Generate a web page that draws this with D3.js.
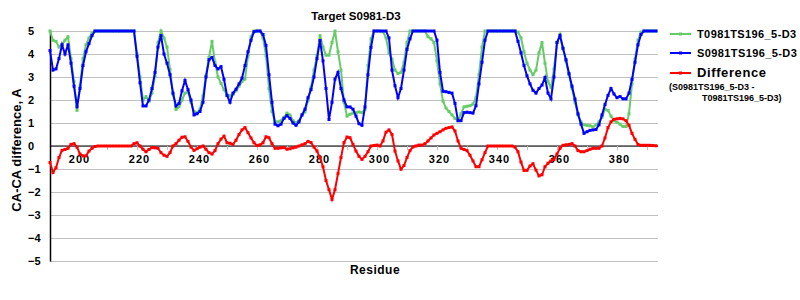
<!DOCTYPE html>
<html>
<head>
<meta charset="utf-8">
<script src="https://cdn.jsdelivr.net/npm/d3@7"></script>
<style>
    body { margin: 0; background: #fff; }
    svg text { font-family: "Liberation Sans", Arial, sans-serif; font-weight: bold; fill: #000; }
</style>
</head>
<body>
<svg id="chart" width="800" height="300"></svg>
<script>
// first residue on the axis, one value per residue after it
var firstResidue = 191;

var seriesNames = ["T0981TS196_5-D3", "S0981TS196_5-D3", "Difference"];

// T0981TS196_5-D3 (green)
var targetValues = [
    5.0, 4.6, 4.55, 4.3, 4.4, 4.6, 4.75, 3.8, 2.8, 1.55,      // 191-200
    2.6, 3.8, 4.4, 4.7, 4.9, 5, 5, 5, 5, 5,                   // 201-210
    5, 5, 5, 5, 5, 5, 5, 5, 5, 4.0,                           // 211-220
    3.0, 2.0, 2.15, 1.95, 2.3, 3.04, 4.5, 5, 4.7, 4.3,        // 221-230
    3.33, 2.25, 1.59, 1.7, 2.0, 2.3, 2.35, 1.9, 1.5, 1.45,    // 231-240
    1.6, 2.18, 3.06, 3.85, 4.55, 3.64, 3.0, 2.72, 2.45, 2.2,  // 241-250
    2.18, 2.25, 2.4, 2.6, 2.8, 2.91, 3.9, 4.75, 5, 5,         // 251-260
    5, 4.7, 3.93, 2.5, 1.5, 1.05, 1.05, 1.1, 1.25, 1.43,      // 261-270
    1.35, 1.1, 1.02, 1.1, 1.35, 1.48, 1.97, 2.55, 3.3, 3.93,  // 271-280
    4.8, 4.3, 3.95, 3.95, 4.5, 5, 4.1, 3.3, 1.9, 1.3,         // 281-290
    1.38, 1.43, 1.45, 1.48, 1.45, 1.6, 3.5, 4.66, 5, 5,       // 291-300
    5, 4.97, 4.7, 4.05, 3.78, 3.3, 3.15, 3.2, 3.64, 4.5,      // 301-310
    5, 5, 5, 5, 5, 5, 4.75, 4.66, 4.5, 3.7,                   // 311-320
    2.7, 1.95, 1.65, 1.5, 1.35, 1.2, 1.1, 1.4, 1.7, 1.73,     // 321-330
    1.75, 1.82, 2.11, 3.1, 4.3, 5, 5, 5, 5, 5,                // 331-340
    5, 5, 5, 5, 5, 5, 4.95, 4.7, 4.1, 3.6,                    // 341-350
    3.3, 3.1, 3.3, 4.05, 4.5, 3.6, 2.8, 2.55, 3.35, 4.5,      // 351-360
    4.85, 4.25, 3.7, 3.1, 2.5, 1.9, 1.35, 1.05, 0.92, 0.9,    // 361-370
    0.88, 0.83, 0.92, 1.05, 1.25, 1.6, 1.55, 1.3, 1.1, 1.02,  // 371-380
    0.95, 0.85, 0.85, 1.4, 2.7, 3.78, 4.6, 4.95, 5, 5,        // 381-390
    5, 5, 5                                                   // 391-393
];

// S0981TS196_5-D3 (blue)
var serverValues = [
    4.15, 3.3, 3.35, 3.8, 4.4, 4.0, 4.4, 3.6, 2.6, 1.7,       // 191-200
    2.5, 3.5, 4.1, 4.45, 4.8, 5, 5, 5, 5, 5,                  // 201-210
    5, 5, 5, 5, 5, 5, 5, 5, 5, 3.9,                           // 211-220
    2.75, 1.74, 1.74, 2.0, 2.5, 3.2, 4.3, 4.8, 4.0, 3.6,      // 221-230
    3.1, 2.3, 1.74, 1.85, 2.4, 2.85, 2.45, 2.0, 1.35, 1.4,    // 231-240
    1.5, 1.9, 3.0, 3.75, 3.85, 3.5, 3.35, 3.45, 2.9, 2.2,     // 241-250
    1.9, 2.3, 2.47, 2.7, 2.95, 3.5, 4.1, 4.6, 4.97, 5,        // 251-260
    5, 4.85, 4.37, 3.1, 1.9, 0.95, 0.88, 0.95, 1.2, 1.32,     // 261-270
    1.2, 1.0, 0.9, 1.05, 1.35, 1.6, 2.1, 2.45, 3.0, 3.8,      // 271-280
    4.59, 3.7, 2.5, 1.15, 1.9, 2.91, 3.2, 2.5, 2.0, 1.7,      // 281-290
    1.7, 1.6, 1.3, 0.97, 0.9, 1.7, 3.1, 4.29, 5, 5,           // 291-300
    5, 5, 5, 4.7, 3.3, 2.62, 2.1, 2.5, 3.3, 4.2,              // 301-310
    4.66, 5, 5, 5, 5, 5, 5, 5, 5, 4.6,                        // 311-320
    3.2, 2.38, 2.36, 2.33, 2.3, 1.85, 1.1, 1.1, 1.45, 1.47,   // 321-330
    1.45, 1.43, 1.75, 2.7, 3.64, 4.6, 5, 5, 5, 5,             // 331-340
    5, 5, 5, 5, 5, 5, 4.55, 4.05, 3.5, 3.05,                  // 341-350
    2.7, 2.42, 2.3, 2.5, 2.65, 2.98, 2.3, 2.05, 3.0, 4.5,     // 351-360
    4.8, 4.25, 3.75, 3.15, 2.6, 2.04, 1.4, 0.95, 0.55, 0.62,  // 361-370
    0.68, 0.7, 0.72, 0.92, 1.35, 1.8, 2.2, 2.5, 2.26, 2.1,    // 371-380
    2.15, 2.05, 2.05, 2.3, 2.9, 3.64, 4.4, 4.85, 5, 5,        // 381-390
    5, 5, 5                                                   // 391-393
];

// Difference (red)
var diffValues = [
    -0.72, -1.15, -0.95, -0.5, -0.19, -0.15, -0.1, 0.07, 0.1, -0.05,   // 191-200
    -0.35, -0.43, -0.43, -0.22, -0.1, -0.02, 0, 0, 0, 0,               // 201-210
    0, 0, 0, 0, 0, 0, 0, 0, 0.1, 0.14,                                 // 211-220
    0.0, -0.14, -0.25, -0.15, -0.07, -0.08, -0.1, -0.29, -0.4, -0.45,  // 221-230
    -0.29, 0.0, 0.1, 0.25, 0.38, 0.4, 0.2, -0.05, -0.19, -0.12,        // 231-240
    -0.05, 0.0, -0.14, -0.29, -0.35, -0.2, 0.1, 0.3, 0.43, 0.14,       // 241-250
    0.12, 0.07, 0.25, 0.5, 0.7, 0.8, 0.58, 0.35, 0.14, 0.02,           // 251-260
    0.05, 0.14, 0.4, 0.36, 0.1, -0.1, -0.1, -0.08, -0.07, -0.14,       // 261-270
    -0.12, -0.08, -0.05, 0.0, 0.05, 0.1, 0.2, 0.15, -0.05, -0.22,      // 271-280
    -0.5, -0.9, -1.5, -1.9, -2.32, -1.9, -1.2, -0.5, 0.15, 0.39,       // 281-290
    0.36, 0.07, -0.22, -0.45, -0.58, -0.45, -0.25, 0.0, 0.02, 0.04,    // 291-300
    0.0, 0.22, 0.6, 0.7, 0.5, -0.22, -0.65, -1.01, -0.85, -0.5,        // 301-310
    -0.2, -0.04, 0.0, 0.04, 0.04, 0.1, 0.22, 0.35, 0.48, 0.55,         // 311-320
    0.62, 0.7, 0.77, 0.8, 0.83, 0.65, 0.22, -0.1, -0.15, -0.2,         // 321-330
    -0.4, -0.65, -0.9, -0.9, -0.6, -0.29, 0, 0, 0, 0,                  // 331-340
    0, 0, 0, 0, 0, -0.05, -0.25, -0.7, -1.06, -1.06,                   // 341-350
    -0.87, -0.77, -1.05, -1.3, -1.25, -0.9, -0.75, -0.65, -0.58, -0.35,// 351-360
    -0.1, 0.03, 0.05, 0.07, 0.1, 0.0, -0.2, -0.25, -0.25, -0.2,        // 361-370
    -0.14, -0.1, -0.1, -0.1, 0.0, 0.35, 0.8, 1.05, 1.16, 1.18,         // 371-380
    1.2, 1.18, 1.1, 0.9, 0.55, 0.29, 0.07, 0.03, 0.03, 0.03,           // 381-390
    0.03, 0.02, 0.01                                                   // 391-393
];

var xTickValues = [200, 210, 220, 230, 240, 250, 260, 270, 280, 290,
                   300, 310, 320, 330, 340, 350, 360, 370, 380, 390];
var yTickValues = [-5, -4, -3, -2, -1, 0, 1, 2, 3, 4, 5];

var colors = ["#66cc66", "#0000ff", "#ff0000"];

/**
 * Draws the whole chart into #chart
 */
function drawResidueChart()
{
    var svg = d3.select("#chart");
    var left = 50, right = 658, top = 31, bottom = 261;

    var x = d3.scaleLinear()
            .domain([firstResidue, firstResidue + 202.67])
            .range([left, right]);
    var y = d3.scaleLinear()
            .domain([-5, 5])
            .range([bottom, top]);

    // horizontal grid
    svg.append("g")
            .attr("transform", "translate(" + left + ",0)")
            .call(d3.axisLeft(y).tickValues(yTickValues).tickSize(-(right - left)).tickFormat(""))
            .call(function(g) {
                g.select(".domain").remove();
                g.selectAll("line").attr("stroke", "#c0c0c0");
            });

    // y labels
    svg.append("g")
            .attr("transform", "translate(" + left + ",0)")
            .call(d3.axisLeft(y).tickValues(yTickValues).tickSize(0).tickFormat(d3.format("d")))
            .call(function(g) {
                g.select(".domain").attr("stroke", "#000").attr("stroke-width", 1.5);
                g.selectAll("text")
                        .attr("x", 28 - left)
                        .attr("text-anchor", "start")
                        .style("font-size", "11px");
            });

    // x axis on zero
    svg.append("g")
            .attr("transform", "translate(0," + y(0) + ")")
            .call(d3.axisBottom(x).tickValues(xTickValues).tickSize(4).tickPadding(5)
                    .tickFormat(function(d) { return d % 20 === 0 ? d : ""; }))
            .call(function(g) {
                g.select(".domain").attr("d", "M" + left + ",0H" + right).attr("stroke", "#000");
                g.selectAll(".tick line").attr("stroke", "#c0c0c0");
                g.selectAll("text")
                        .attr("dx", 2)
                        .style("font-size", "11px")
                        .style("letter-spacing", "1px");
            });

    var allSeries = [targetValues, serverValues, diffValues];

    allSeries.forEach(function(values, i) {
        var line = d3.line()
                .x(function(d, k) { return x(firstResidue + k); })
                .y(function(d) { return y(d); });

        svg.append("path")
                .datum(values)
                .attr("fill", "none")
                .attr("stroke", colors[i])
                .attr("stroke-width", 2)
                .attr("d", line);

        // small point markers, like the dashes Excel puts on each point
        svg.append("g")
                .selectAll("rect")
                .data(values)
                .join("rect")
                .attr("x", function(d, k) { return x(firstResidue + k) - 1.5; })
                .attr("y", function(d) { return y(d) - 1.5; })
                .attr("width", 3)
                .attr("height", 3)
                .attr("fill", colors[i]);
    });

    // titles
    svg.append("text")
            .attr("x", 356).attr("y", 20)
            .attr("text-anchor", "middle")
            .style("font-size", "11.5px")
            .text("Target S0981-D3");

    svg.append("text")
            .attr("x", 375).attr("y", 274)
            .attr("text-anchor", "middle")
            .style("font-size", "12px")
            .style("letter-spacing", "0.5px")
            .text("Residue");

    svg.append("text")
            .attr("transform", "translate(21,150) rotate(-90)")
            .attr("text-anchor", "middle")
            .style("font-size", "13px")
            .text("CA-CA difference, A");

    drawLegend(svg);
}

/**
 * Legend on the right side
 * @param {type} svg
 */
function drawLegend(svg)
{
    var rows = [34, 53, 73];
    seriesNames.forEach(function(name, i) {
        svg.append("line")
                .attr("x1", 670).attr("x2", 691)
                .attr("y1", rows[i]).attr("y2", rows[i])
                .attr("stroke", colors[i])
                .attr("stroke-width", 2);
        svg.append("rect")
                .attr("x", 679).attr("y", rows[i] - 1.5)
                .attr("width", 3).attr("height", 3)
                .attr("fill", colors[i]);
        svg.append("text")
                .attr("x", 697).attr("y", rows[i] + 4)
                .style("font-size", i === 2 ? "13px" : "11px")
                .style("letter-spacing", i === 2 ? "0.6px" : "0.4px")
                .text(name);
    });

    svg.append("text")
            .attr("x", 669).attr("y", 90)
            .style("font-size", "9px")
            .text("(" + seriesNames[1] + " -");
    svg.append("text")
            .attr("x", 702).attr("y", 101)
            .style("font-size", "9px")
            .text(seriesNames[0] + ")");
}

drawResidueChart();
</script>
</body>
</html>
